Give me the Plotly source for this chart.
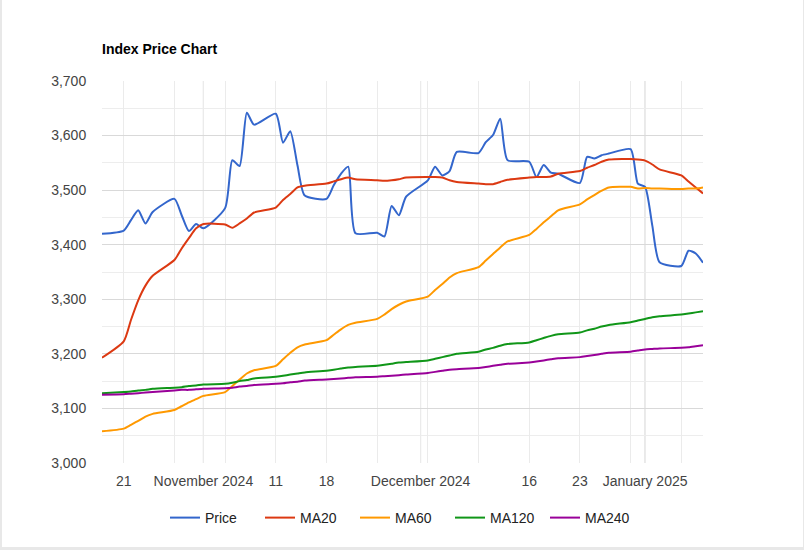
import plotly.graph_objects as go

# --- DATA (business days) ---
dates = [
    "2024-10-18",
    "2024-10-21", "2024-10-22", "2024-10-23", "2024-10-24", "2024-10-25",
    "2024-10-28", "2024-10-29", "2024-10-30", "2024-10-31", "2024-11-01",
    "2024-11-04", "2024-11-05", "2024-11-06", "2024-11-07", "2024-11-08",
    "2024-11-11", "2024-11-12", "2024-11-13", "2024-11-14", "2024-11-15",
    "2024-11-18", "2024-11-19", "2024-11-20", "2024-11-21", "2024-11-22",
    "2024-11-25", "2024-11-26", "2024-11-27", "2024-11-28", "2024-11-29",
    "2024-12-02", "2024-12-03", "2024-12-04", "2024-12-05", "2024-12-06",
    "2024-12-09", "2024-12-10", "2024-12-11", "2024-12-12", "2024-12-13",
    "2024-12-16", "2024-12-17", "2024-12-18", "2024-12-19", "2024-12-20",
    "2024-12-23", "2024-12-24", "2024-12-25", "2024-12-26", "2024-12-27",
    "2024-12-30", "2024-12-31", "2025-01-01", "2025-01-02", "2025-01-03",
    "2025-01-06", "2025-01-07", "2025-01-08", "2025-01-09",
]

price = [
    3420,
    3426, 3445, 3463, 3439, 3460,
    3484, 3454, 3425, 3438, 3430,
    3467, 3555, 3544, 3642, 3620,
    3640, 3587, 3608, 3545, 3490,
    3484, 3509, 3530, 3543, 3421,
    3422, 3415, 3471, 3454, 3488,
    3518, 3543, 3527, 3535, 3570,
    3568, 3588, 3601, 3631, 3555,
    3552, 3524, 3546, 3532, 3530,
    3513, 3561, 3558, 3564, 3567,
    3575, 3512, 3506, 3435, 3368,
    3361, 3389, 3384, 3367,
]

ma20 = [
    3193,
    3223, 3262, 3298, 3325, 3343,
    3372, 3393, 3412, 3430, 3438,
    3437, 3431, 3439, 3448, 3459,
    3468, 3482, 3493, 3505, 3508,
    3512, 3516, 3520, 3523, 3520,
    3518, 3517, 3518, 3520, 3523,
    3524, 3524, 3523, 3518, 3515,
    3512, 3511, 3511, 3515, 3519,
    3523, 3524, 3524, 3525, 3530,
    3535, 3541, 3546, 3552, 3556,
    3557, 3556, 3554, 3547, 3538,
    3527, 3516, 3505, 3494,
]

ma60 = [
    3058,
    3063, 3070, 3077, 3085, 3090,
    3097, 3104, 3111, 3117, 3123,
    3130, 3141, 3153, 3164, 3170,
    3178, 3190, 3202, 3212, 3217,
    3225, 3235, 3245, 3253, 3257,
    3264, 3272, 3282, 3290, 3296,
    3305, 3317, 3328, 3340, 3348,
    3359, 3371, 3383, 3395, 3406,
    3418, 3429, 3441, 3452, 3463,
    3474, 3483, 3491, 3499, 3505,
    3506, 3503, 3504, 3503, 3503,
    3502, 3503, 3503, 3505,
]

ma120 = [
    3128,
    3130, 3131, 3133, 3134, 3136,
    3138, 3139, 3141, 3142, 3144,
    3145, 3147, 3150, 3152, 3155,
    3158, 3160, 3162, 3164, 3166,
    3169, 3171, 3173, 3175, 3176,
    3178, 3180, 3182, 3184, 3185,
    3188, 3191, 3194, 3197, 3200,
    3204, 3208, 3211, 3215, 3218,
    3221, 3225, 3229, 3233, 3236,
    3239, 3243, 3246, 3250, 3253,
    3258, 3261, 3264, 3267, 3269,
    3272, 3274, 3276, 3278,
]

ma240 = [
    3125,
    3126, 3127, 3128, 3129, 3130,
    3133, 3134, 3134, 3135, 3136,
    3137, 3138, 3140, 3141, 3143,
    3145, 3146, 3148, 3149, 3151,
    3153, 3154, 3155, 3156, 3157,
    3158, 3159, 3160, 3161, 3162,
    3165, 3167, 3169, 3171, 3172,
    3174, 3176, 3178, 3180, 3182,
    3184, 3186, 3188, 3190, 3192,
    3194, 3196, 3198, 3200, 3202,
    3204, 3206, 3208, 3209, 3210,
    3211, 3212, 3214, 3216,
]

series = [
    ("Price", price, "#3366cc"),
    ("MA20", ma20, "#dc3912"),
    ("MA60", ma60, "#ff9900"),
    ("MA120", ma120, "#109618"),
    ("MA240", ma240, "#990099"),
]

# x-axis: weekly gridlines, only some of them labelled; month starts drawn darker
week_ticks = ["2024-10-21", "2024-10-28", "2024-11-04", "2024-11-11", "2024-11-18",
              "2024-11-25", "2024-12-02", "2024-12-09", "2024-12-16", "2024-12-23",
              "2024-12-30", "2025-01-06"]
week_labels = ["21", "", "", "11", "18", "", "", "", "16", "23", "", ""]
month_ticks = ["2024-11-01", "2024-12-01", "2025-01-01"]
month_labels = ["November 2024", "December 2024", "January 2025"]

y_ticks = [3000, 3100, 3200, 3300, 3400, 3500, 3600, 3700]

# --- LAYOUT CONSTANTS (pixels) ---
W, H = 804, 550
ML, MR, MT, MB = 102, 101, 81, 87
FONT = "Arial, Liberation Sans, sans-serif"


def main():
    fig = go.Figure()

    for name, vals, color in series:
        fig.add_trace(go.Scatter(
            x=dates, y=vals, name=name, mode="lines",
            line=dict(color=color, width=2, shape="spline", smoothing=0.6),
        ))

    plot_w = W - ML - MR
    plot_h = H - MT - MB

    shapes = [
        # white card over the light grey page edge
        dict(type="rect", xref="paper", yref="paper", layer="below",
             x0=(2 - ML) / plot_w, x1=(803 - ML) / plot_w,
             y0=(H - MB - 547) / plot_h, y1=(H - MB) / plot_h + 1,
             fillcolor="white", line=dict(width=0)),
    ]
    for m in month_ticks:
        shapes.append(dict(type="line", xref="x", yref="paper", layer="below",
                           x0=m, x1=m, y0=0, y1=1,
                           line=dict(color="#cccccc", width=1)))

    fig.update_layout(
        width=W, height=H,
        margin=dict(l=ML, r=MR, t=MT, b=MB),
        paper_bgcolor="#e8e8e8",
        plot_bgcolor="white",
        font=dict(family=FONT, size=14, color="#444444"),
        title=dict(text="<b>Index Price Chart</b>", x=ML / W, xanchor="left",
                   xref="container", y=1 - 49 / H, yanchor="middle",
                   font=dict(family=FONT, size=14, color="#000000")),
        showlegend=True,
        legend=dict(orientation="h", x=0.5, xanchor="center",
                    y=(H - MB - 518) / plot_h, yanchor="middle",
                    entrywidth=50, entrywidthmode="pixels",
                    font=dict(family=FONT, size=14, color="#222222"),
                    bgcolor="rgba(0,0,0,0)"),
        xaxis=dict(
            type="date", range=[dates[0], dates[-1]],
            tickvals=week_ticks + month_ticks,
            ticktext=week_labels + month_labels,
            showgrid=True, gridcolor="#ebebeb", gridwidth=1,
            ticks="outside", ticklen=5, tickcolor="rgba(0,0,0,0)",
            showline=False, zeroline=False,
            tickfont=dict(color="#444444", size=14),
        ),
        yaxis=dict(
            range=[3000, 3700], tickvals=y_ticks, tickformat=",",
            showgrid=True, gridcolor="#d9d9d9", gridwidth=1,
            minor=dict(dtick=50, showgrid=True, gridcolor="#ededed"),
            ticks="outside", ticklen=12, tickcolor="rgba(0,0,0,0)",
            showline=False, zeroline=False,
            tickfont=dict(color="#444444", size=14),
        ),
        shapes=shapes,
        hovermode="x",
    )

    # the page's default 8px body margin would shift the whole chart
    fig.write_html("out.html", config={"displayModeBar": False},
                   post_script="document.body.style.margin='0';")


if __name__ == "__main__":
    main()
